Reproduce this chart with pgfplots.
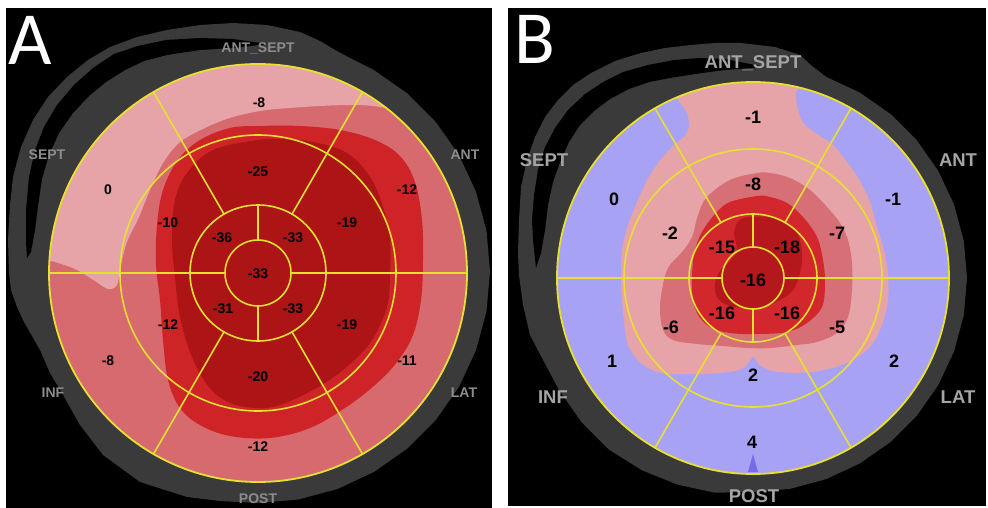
\documentclass[border=0pt]{standalone}
\usepackage{pgfplots}
\pgfplotsset{compat=1.18}
\usepackage{fontspec}
\setmainfont{Liberation Sans}
\newfontfamily\carlito{Carlito}
\definecolor{lpink}{RGB}{230,164,168}
\definecolor{salmonA}{RGB}{214,106,110}
\definecolor{redA}{RGB}{206,36,40}
\definecolor{dredA}{RGB}{172,20,22}
\definecolor{salmonB}{RGB}{215,112,118}
\definecolor{redB}{RGB}{210,40,45}
\definecolor{dredB}{RGB}{180,24,28}
\definecolor{lav}{RGB}{168,162,245}
\definecolor{ringgray}{RGB}{58,58,58}
\definecolor{yel}{RGB}{232,224,48}
\definecolor{lblA}{RGB}{140,140,140}
\definecolor{lblB}{RGB}{165,165,165}
\definecolor{tri}{RGB}{118,108,232}
\begin{document}
\begin{tikzpicture}
\begin{axis}[x=1pt,y=1pt,y dir=reverse,xmin=0,xmax=988,ymin=0,ymax=508,hide axis,clip=false]
\fill[white] (0,0) rectangle (988,508);
\fill[black] (6,8) rectangle (492,508);
\fill[black] (508,8) rectangle (986,506);
% ---------------- Panel A ----------------
\fill[salmonA] (258,273) circle[radius=209pt];
\addplot[draw=none,fill=lpink,smooth cycle,tension=0.5] coordinates {
(42,258) (52,261) (75,269) (95,281) (108,289) (117,285) (121,265) (127,242) (139,217) (150,190) (163,163) (180,142) (207,127) (233,117) (267,110) (320,106) (360,105) (385,108) (398,114) (411,118) (397,106) (366,86) (314,64) (258,57) (202,64) (150,86) (105,120) (71,165) (49,217)};
\addplot[draw=none,fill=redA,smooth cycle,tension=0.6] coordinates {
(230,128) (258,126) (300,126) (340,130) (375,140) (400,156) (415,182) (422,220) (423,260) (421,300) (413,335) (397,362) (375,385) (345,408) (310,428) (270,438) (230,436) (200,425) (180,408) (168,380) (163,340) (160,300) (156,265) (157,225) (163,190) (178,160) (200,140)};
\addplot[draw=none,fill=dredA,smooth cycle,tension=0.6] coordinates {
(257,140) (213,150) (187,173) (175,200) (172,240) (175,277) (180,317) (192,357) (209,387) (230,403) (257,408) (280,405) (313,390) (343,370) (370,343) (387,307) (390,273) (390,240) (383,207) (370,177) (347,153) (313,142) (280,139)};
\fill[ringgray,even odd rule] (233,23) -- (267,25) -- (300,32) -- (320,41) -- (335,50) -- (350,58) -- (374,70.1) -- (407.1,93.3) -- (435.7,121.9) -- (458.9,155) -- (476,191.7) -- (486.5,230.7) -- (490,271) -- (486.5,311.3) -- (476,350.3) -- (458.9,387) -- (435.7,420.1) -- (407.1,448.7) -- (374,471.9) -- (337.4,489) -- (298.3,499.5) -- (258,503) -- (220,501) -- (187,497) -- (140,482) -- (103,455) -- (80,425) -- (62,393) -- (50,373) -- (40,350) -- (32,336) -- (24,322) -- (17,307) -- (11,290) -- (9,273) -- (8,240) -- (10,205) -- (13,177) -- (21,147) -- (33,120) -- (48,97) -- (67,77) -- (88,60) -- (110,47) -- (137,37) -- (167,30) -- (200,25) -- cycle (258,273) circle[radius=209pt];
\fill[black] (27,258) -- (26,243) -- (26,210) -- (29,177) -- (35,150) -- (44,127) -- (57,105) -- (74,85) -- (93,68) -- (114,54) -- (138,46) -- (166,40) -- (200,38) -- (233,39) -- (268,44) -- (233,48) -- (200,50) -- (167,55) -- (144,61) -- (125,70) -- (106,82) -- (89,96) -- (73,113) -- (59,133) -- (49,155) -- (42,179) -- (38,206) -- (35,230) -- (31,252) -- cycle;
\draw[yel,line width=1.8pt] (258,273) circle[radius=209pt];
\draw[yel,line width=1.6pt] (258,273) circle[radius=138pt];
\draw[yel,line width=1.6pt] (258,273) circle[radius=68pt];
\draw[yel,line width=1.6pt] (258,273) circle[radius=33pt];
\draw[yel,line width=1.6pt] (49,273) -- (225,273) (291,273) -- (467,273)
  (258,240) -- (258,205) (258,306) -- (258,341)
  (292,214.1) -- (362.5,92) (224,214.1) -- (153.5,92)
  (224,331.9) -- (153.5,454) (292,331.9) -- (362.5,454);
\begin{scope}[every node/.style={font=\fontsize{14}{16}\selectfont\bfseries,inner sep=0pt}]
\node at (259,103) {-8};
\node at (407,190) {-12};
\node at (407,361) {-11};
\node at (258,447) {-12};
\node at (108,361) {-8};
\node at (108,190) {0};
\node at (258,172) {-25};
\node at (347,223) {-19};
\node at (347,325) {-19};
\node at (258,377) {-20};
\node at (168,325) {-12};
\node at (168,223) {-10};
\node at (222,238) {-36};
\node at (293,238) {-33};
\node at (223,309) {-31};
\node at (293,309) {-33};
\node at (258,274) {-33};
\end{scope}
\begin{scope}[every node/.style={font=\fontsize{14}{16}\selectfont\bfseries,inner sep=0pt,text=lblA,anchor=base}]
\node at (258,53) {ANT\_SEPT};
\node at (47,160) {SEPT};
\node at (465,160) {ANT};
\node at (53,397) {INF};
\node at (464,397) {LAT};
\node at (258,503) {POST};
\end{scope}
\node[anchor=base west,inner sep=0pt,text=white,font=\carlito\fontsize{75}{75}\selectfont] at (8,65) {A};
% ---------------- Panel B ----------------
\fill[lav] (753,278) circle[radius=196pt];
\addplot[draw=none,fill=lpink,smooth cycle,tension=0.5] coordinates {
(677,92) (687,113) (689,127) (684,137) (674,145) (662,158) (650,175) (638,200) (628,225) (622,250) (621,280) (622,300) (624,321) (628,345) (641,363) (661,373) (697,374) (730,372) (745,367) (753,357) (761,366) (778,372) (813,372) (847,363) (870,347) (882,325) (888,300) (888,275) (884,250) (877,227) (870,202) (860,181) (847,162) (833,145) (817,134) (804,124) (798,110) (796,92) (806,82) (788,78) (753,75) (718,78)};
\addplot[draw=none,fill=salmonB,smooth cycle,tension=0.6] coordinates {
(757,173) (730,180) (707,197) (698,215) (692,237) (682,252) (668,268) (662,290) (660,310) (663,330) (673,340) (697,344) (723,346) (747,348) (770,348) (797,345) (817,342) (837,333) (848,317) (852,290) (852,263) (848,240) (840,223) (827,207) (810,190) (790,178) (770,173)};
\addplot[draw=none,fill=redB,smooth cycle,tension=0.6] coordinates {
(757,196) (730,202) (717,212) (705,227) (697,243) (693,262) (692,290) (697,313) (710,327) (730,333) (757,334) (787,332) (807,323) (822,307) (825,283) (823,260) (817,237) (803,217) (787,203) (770,197)};
\addplot[draw=none,fill=dredB,smooth cycle,tension=0.6] coordinates {
(750,217) (740,220) (734,232) (737,250) (730,261) (720,271) (715,284) (717,297) (727,305) (743,308) (763,307) (780,300) (793,290) (800,273) (802,253) (797,233) (783,222) (767,217)};
\addplot[draw=none,fill=tri] coordinates {(748,472) (753,454) (758,472)} -- cycle;
\fill[ringgray,even odd rule] (741,43) -- (775,47) -- (800,55) -- (812,66) -- (826.2,76.9) -- (860,92.7) -- (890.6,114.1) -- (916.9,140.4) -- (938.3,171) -- (954.1,204.8) -- (963.8,240.8) -- (967,278) -- (963.8,315.2) -- (954.1,351.2) -- (938.3,385) -- (916.9,415.6) -- (890.6,441.9) -- (860,463.3) -- (826.2,479.1) -- (790.2,488.8) -- (753,492) -- (715,492.7) -- (677.8,484.7) -- (642,470.3) -- (609,449.6) -- (581.4,422) -- (559,390) -- (540.6,355.3) -- (530,335) -- (523,305) -- (519,275) -- (518,253) -- (519,220) -- (521,187) -- (527,160) -- (535,137) -- (545,117) -- (558,100) -- (573,85) -- (591,73) -- (615,61) -- (641,53) -- (665,48) -- (691,45) -- (715,43) -- cycle (753,278) circle[radius=196pt];
\fill[black] (536,268) -- (533,240) -- (532,220) -- (534,195) -- (538,170) -- (545,147) -- (555,128) -- (568,110) -- (585,94) -- (603,82) -- (623,72) -- (648,65) -- (674,60) -- (700,58) -- (725,59) -- (765,67) -- (725,70) -- (695,74) -- (670,78) -- (649,82) -- (629,89) -- (610,99) -- (594,111) -- (580,125) -- (569,142) -- (560,162) -- (553,182) -- (548,205) -- (545,230) -- (541,253) -- cycle;
\draw[yel,line width=1.8pt] (753,278) circle[radius=196pt];
\draw[yel,line width=1.6pt] (753,278) circle[radius=129pt];
\draw[yel,line width=1.6pt] (753,278) circle[radius=64pt];
\draw[yel,line width=1.6pt] (753,278) circle[radius=31pt];
\draw[yel,line width=1.6pt] (557,278) -- (722,278) (784,278) -- (949,278)
  (753,247) -- (753,214) (753,309) -- (753,342)
  (785,222.6) -- (851,108.3) (721,222.6) -- (655,108.3)
  (721,333.4) -- (655,447.7) (785,333.4) -- (851,447.7);
\begin{scope}[every node/.style={font=\fontsize{18}{20}\selectfont\bfseries,inner sep=0pt}]
\node at (753,117) {-1};
\node at (893,199) {-1};
\node at (894,361) {2};
\node at (752,442) {4};
\node at (612,361) {1};
\node at (614,199) {0};
\node at (753,184) {-8};
\node at (837,233) {-7};
\node at (837,327) {-5};
\node at (753,375) {2};
\node at (671,327) {-6};
\node at (670,233) {-2};
\node at (722,247) {-15};
\node at (787,247) {-18};
\node at (722,313) {-16};
\node at (787,313) {-16};
\node at (753,280) {-16};
\end{scope}
\begin{scope}[every node/.style={font=\fontsize{18.5}{20}\selectfont\bfseries,inner sep=0pt,text=lblB,anchor=base}]
\node at (753,68.5) {ANT\_SEPT};
\node at (544,166.5) {SEPT};
\node at (958,166.5) {ANT};
\node at (553,403.5) {INF};
\node at (958,403.5) {LAT};
\node at (754,502.5) {POST};
\end{scope}
\node[anchor=base west,inner sep=0pt,text=white,font=\carlito\fontsize{75}{75}\selectfont] at (514,64) {B};
\end{axis}
\end{tikzpicture}
\end{document}
